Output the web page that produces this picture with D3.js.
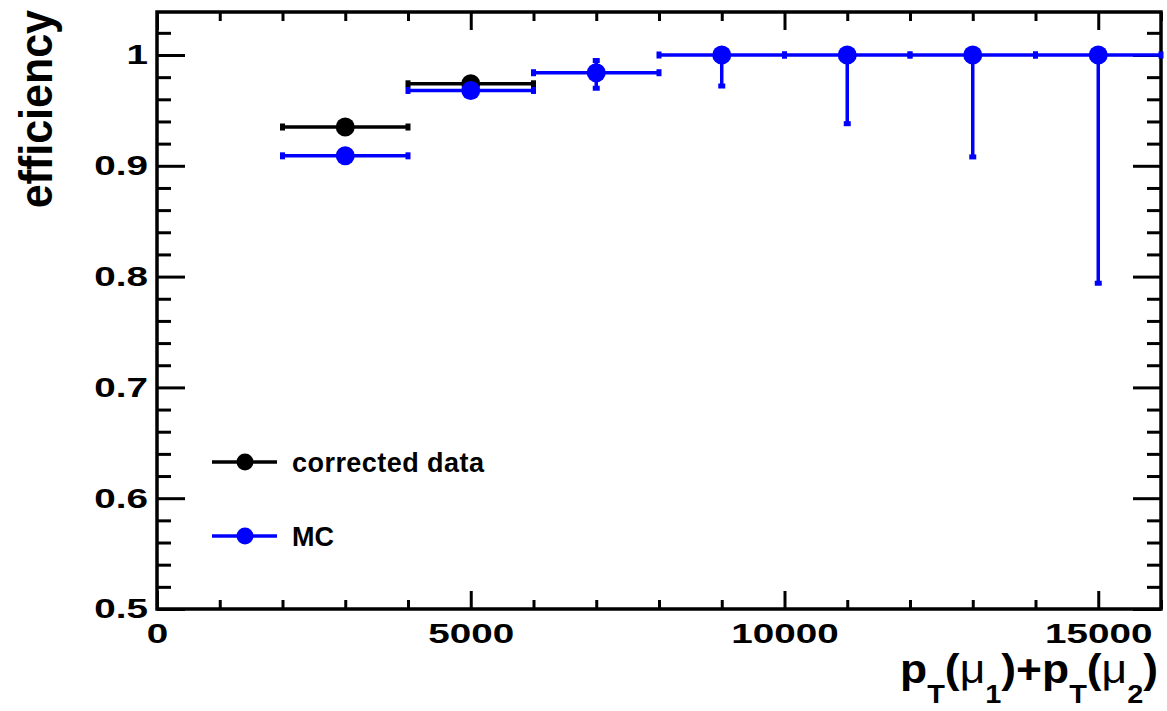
<!DOCTYPE html>
<html>
<head>
<meta charset="utf-8">
<script src="https://cdn.jsdelivr.net/npm/d3@7"></script>
<style>
  html, body { margin: 0; padding: 0; background: #fff; }
  svg { display: block; }
  text { font-family: "Liberation Sans", Arial, Helvetica, sans-serif; font-weight: bold; fill: #000; }
</style>
</head>
<body>
<svg id="chart" width="1167" height="711"></svg>
<script>
// ---- data ----
const binCenters = [3000, 5000, 7000, 9000, 11000, 13000, 15000];
const binHalfWidth = [1000, 1000, 1000, 1000, 1000, 1000, 1000];

const dataCenters = [3000, 5000];
const dataEff = [0.935, 0.974];
const dataErrLow = [0.003, 0.003];
const dataErrHigh = [0.003, 0.003];

const mcEff = [0.909, 0.968, 0.984, 1.0, 1.0, 1.0, 1.0];
const mcErrLow = [0.003, 0.003, 0.014, 0.028, 0.062, 0.092, 0.206];
const mcErrHigh = [0.003, 0.003, 0.011, 0.0, 0.0, 0.0, 0.0];

const xTicks = [0, 5000, 10000, 15000];
const xTickLabels = ["0", "5000", "10000", "15000"];
const yTicks = [0.5, 0.6, 0.7, 0.8, 0.9, 1.0];
const yTickLabels = ["0.5", "0.6", "0.7", "0.8", "0.9", "1"];
const legendLabels = ["corrected data", "MC"];
const seriesColors = ["#000000", "#0000ff"];

// ---- layout ----
const L = 157, R = 1161, T = 12, B = 609;
const svg = d3.select("#chart");
const x = d3.scaleLinear().domain([0, 16000]).range([L, R]);
const y = d3.scaleLinear().domain([0.5, 1.0388]).range([B, T]);

const xMinor = d3.range(0, 16001, 1000).filter(v => !xTicks.includes(v));
const yMinor = d3.range(0, 27).map(i => +(0.5 + i * 0.02).toFixed(2))
  .filter(v => !yTicks.some(t => Math.abs(t - v) < 1e-9) && v < 1.0388);

const TICK_FONT = 28, TICK_STRETCH = 1.38;

function styleAxis(g) {
  g.select(".domain").remove();
  g.selectAll(".tick line").attr("stroke", "#000").attr("stroke-width", 3);
  g.selectAll(".tick text").style("font-size", TICK_FONT + "px").style("font-weight", "bold")
    .style("font-family", '"Liberation Sans", Arial, Helvetica, sans-serif');
}

// bottom axis (major with labels)
const gxb = svg.append("g").attr("transform", `translate(0,${B})`)
  .call(d3.axisBottom(x).tickValues(xTicks).tickFormat((d, i) => xTickLabels[i]).tickSize(-18).tickPadding(14))
  .call(styleAxis);
gxb.selectAll(".tick text").attr("transform", `scale(${TICK_STRETCH},1)`);
svg.append("g").attr("transform", `translate(0,${B})`)
  .call(d3.axisBottom(x).tickValues(xMinor).tickFormat("").tickSize(-9))
  .call(styleAxis);
// top axis
svg.append("g").attr("transform", `translate(0,${T})`)
  .call(d3.axisTop(x).tickValues(xTicks).tickFormat("").tickSize(-18))
  .call(styleAxis);
svg.append("g").attr("transform", `translate(0,${T})`)
  .call(d3.axisTop(x).tickValues(xMinor).tickFormat("").tickSize(-9))
  .call(styleAxis);
// left axis
const gyl = svg.append("g").attr("transform", `translate(${L},0)`)
  .call(d3.axisLeft(y).tickValues(yTicks).tickFormat((d, i) => yTickLabels[i]).tickSize(-28).tickPadding(9))
  .call(styleAxis);
gyl.selectAll(".tick text").attr("x", 0).attr("transform", `translate(-9,0) scale(${TICK_STRETCH},1)`);
svg.append("g").attr("transform", `translate(${L},0)`)
  .call(d3.axisLeft(y).tickValues(yMinor).tickFormat("").tickSize(-14))
  .call(styleAxis);
// right axis
svg.append("g").attr("transform", `translate(${R},0)`)
  .call(d3.axisRight(y).tickValues(yTicks).tickFormat("").tickSize(-28))
  .call(styleAxis);
svg.append("g").attr("transform", `translate(${R},0)`)
  .call(d3.axisRight(y).tickValues(yMinor).tickFormat("").tickSize(-14))
  .call(styleAxis);

// frame
svg.append("rect").attr("x", L).attr("y", T).attr("width", R - L).attr("height", B - T)
  .attr("fill", "none").attr("stroke", "#000").attr("stroke-width", 3.5);

// ---- series ----
function drawSeries(cx, eff, errLo, errHi, halfW, color) {
  const g = svg.append("g");
  const cap = 3.5;
  cx.forEach((c, i) => {
    const x0 = x(c - halfW[i]), x1 = Math.min(x(c + halfW[i]), R), yy = y(eff[i]);
    g.append("line").attr("x1", x0).attr("x2", x1).attr("y1", yy).attr("y2", yy)
      .attr("stroke", color).attr("stroke-width", 3.5);
    [x0, x1].forEach(xe => {
      g.append("rect").attr("x", xe - 2.5).attr("y", yy - cap).attr("width", 5).attr("height", 2 * cap).attr("fill", color);
    });
    const yl = y(eff[i] - errLo[i]), yh = y(eff[i] + errHi[i]), xc = x(c);
    g.append("line").attr("x1", xc).attr("x2", xc).attr("y1", yl).attr("y2", yh)
      .attr("stroke", color).attr("stroke-width", 3.5);
    [yl, yh].forEach(ye => {
      g.append("rect").attr("x", xc - cap).attr("y", ye - 2.5).attr("width", 2 * cap).attr("height", 5).attr("fill", color);
    });
    g.append("circle").attr("cx", xc).attr("cy", yy).attr("r", 9.5).attr("fill", color);
  });
}
drawSeries(dataCenters, dataEff, dataErrLow, dataErrHigh, binHalfWidth, seriesColors[0]);
drawSeries(binCenters, mcEff, mcErrLow, mcErrHigh, binHalfWidth, seriesColors[1]);

// ---- legend ----
const legY = [462, 536];
legendLabels.forEach((lab, i) => {
  const g = svg.append("g");
  g.append("line").attr("x1", 212).attr("x2", 277).attr("y1", legY[i]).attr("y2", legY[i])
    .attr("stroke", seriesColors[i]).attr("stroke-width", 3.5);
  g.append("circle").attr("cx", 245).attr("cy", legY[i]).attr("r", 8.5).attr("fill", seriesColors[i]);
  g.append("text").attr("x", 292).attr("y", legY[i] + 9.5).style("font-size", "27px")
    .attr("textLength", i === 0 ? 192 : null).text(lab);
});

// ---- axis titles ----
svg.append("text").attr("transform", "translate(52,10) rotate(-90) scale(1,1.08)")
  .attr("text-anchor", "end").style("font-size", "43px").text("efficiency");

const xt = svg.append("text").attr("transform", "translate(1158,683) scale(1.11,1)")
  .attr("x", 0).attr("y", 0).attr("text-anchor", "end").style("font-size", "40px");
const parts = [
  ["p", 0, 40, "bold"], ["T", 20, 26, "bold"], ["(", -20, 40, "bold"], ["\u03bc", 0, 40, "normal"],
  ["1", 20, 26, "bold"], [")", -20, 40, "bold"], ["+", 0, 40, "bold"], ["p", 0, 40, "bold"],
  ["T", 20, 26, "bold"], ["(", -20, 40, "bold"], ["\u03bc", 0, 40, "normal"], ["2", 20, 26, "bold"],
  [")", -20, 40, "bold"]
];
parts.forEach(p => {
  xt.append("tspan").attr("dy", p[1]).style("font-size", p[2] + "px").style("font-weight", p[3]).text(p[0]);
});
</script>
</body>
</html>
